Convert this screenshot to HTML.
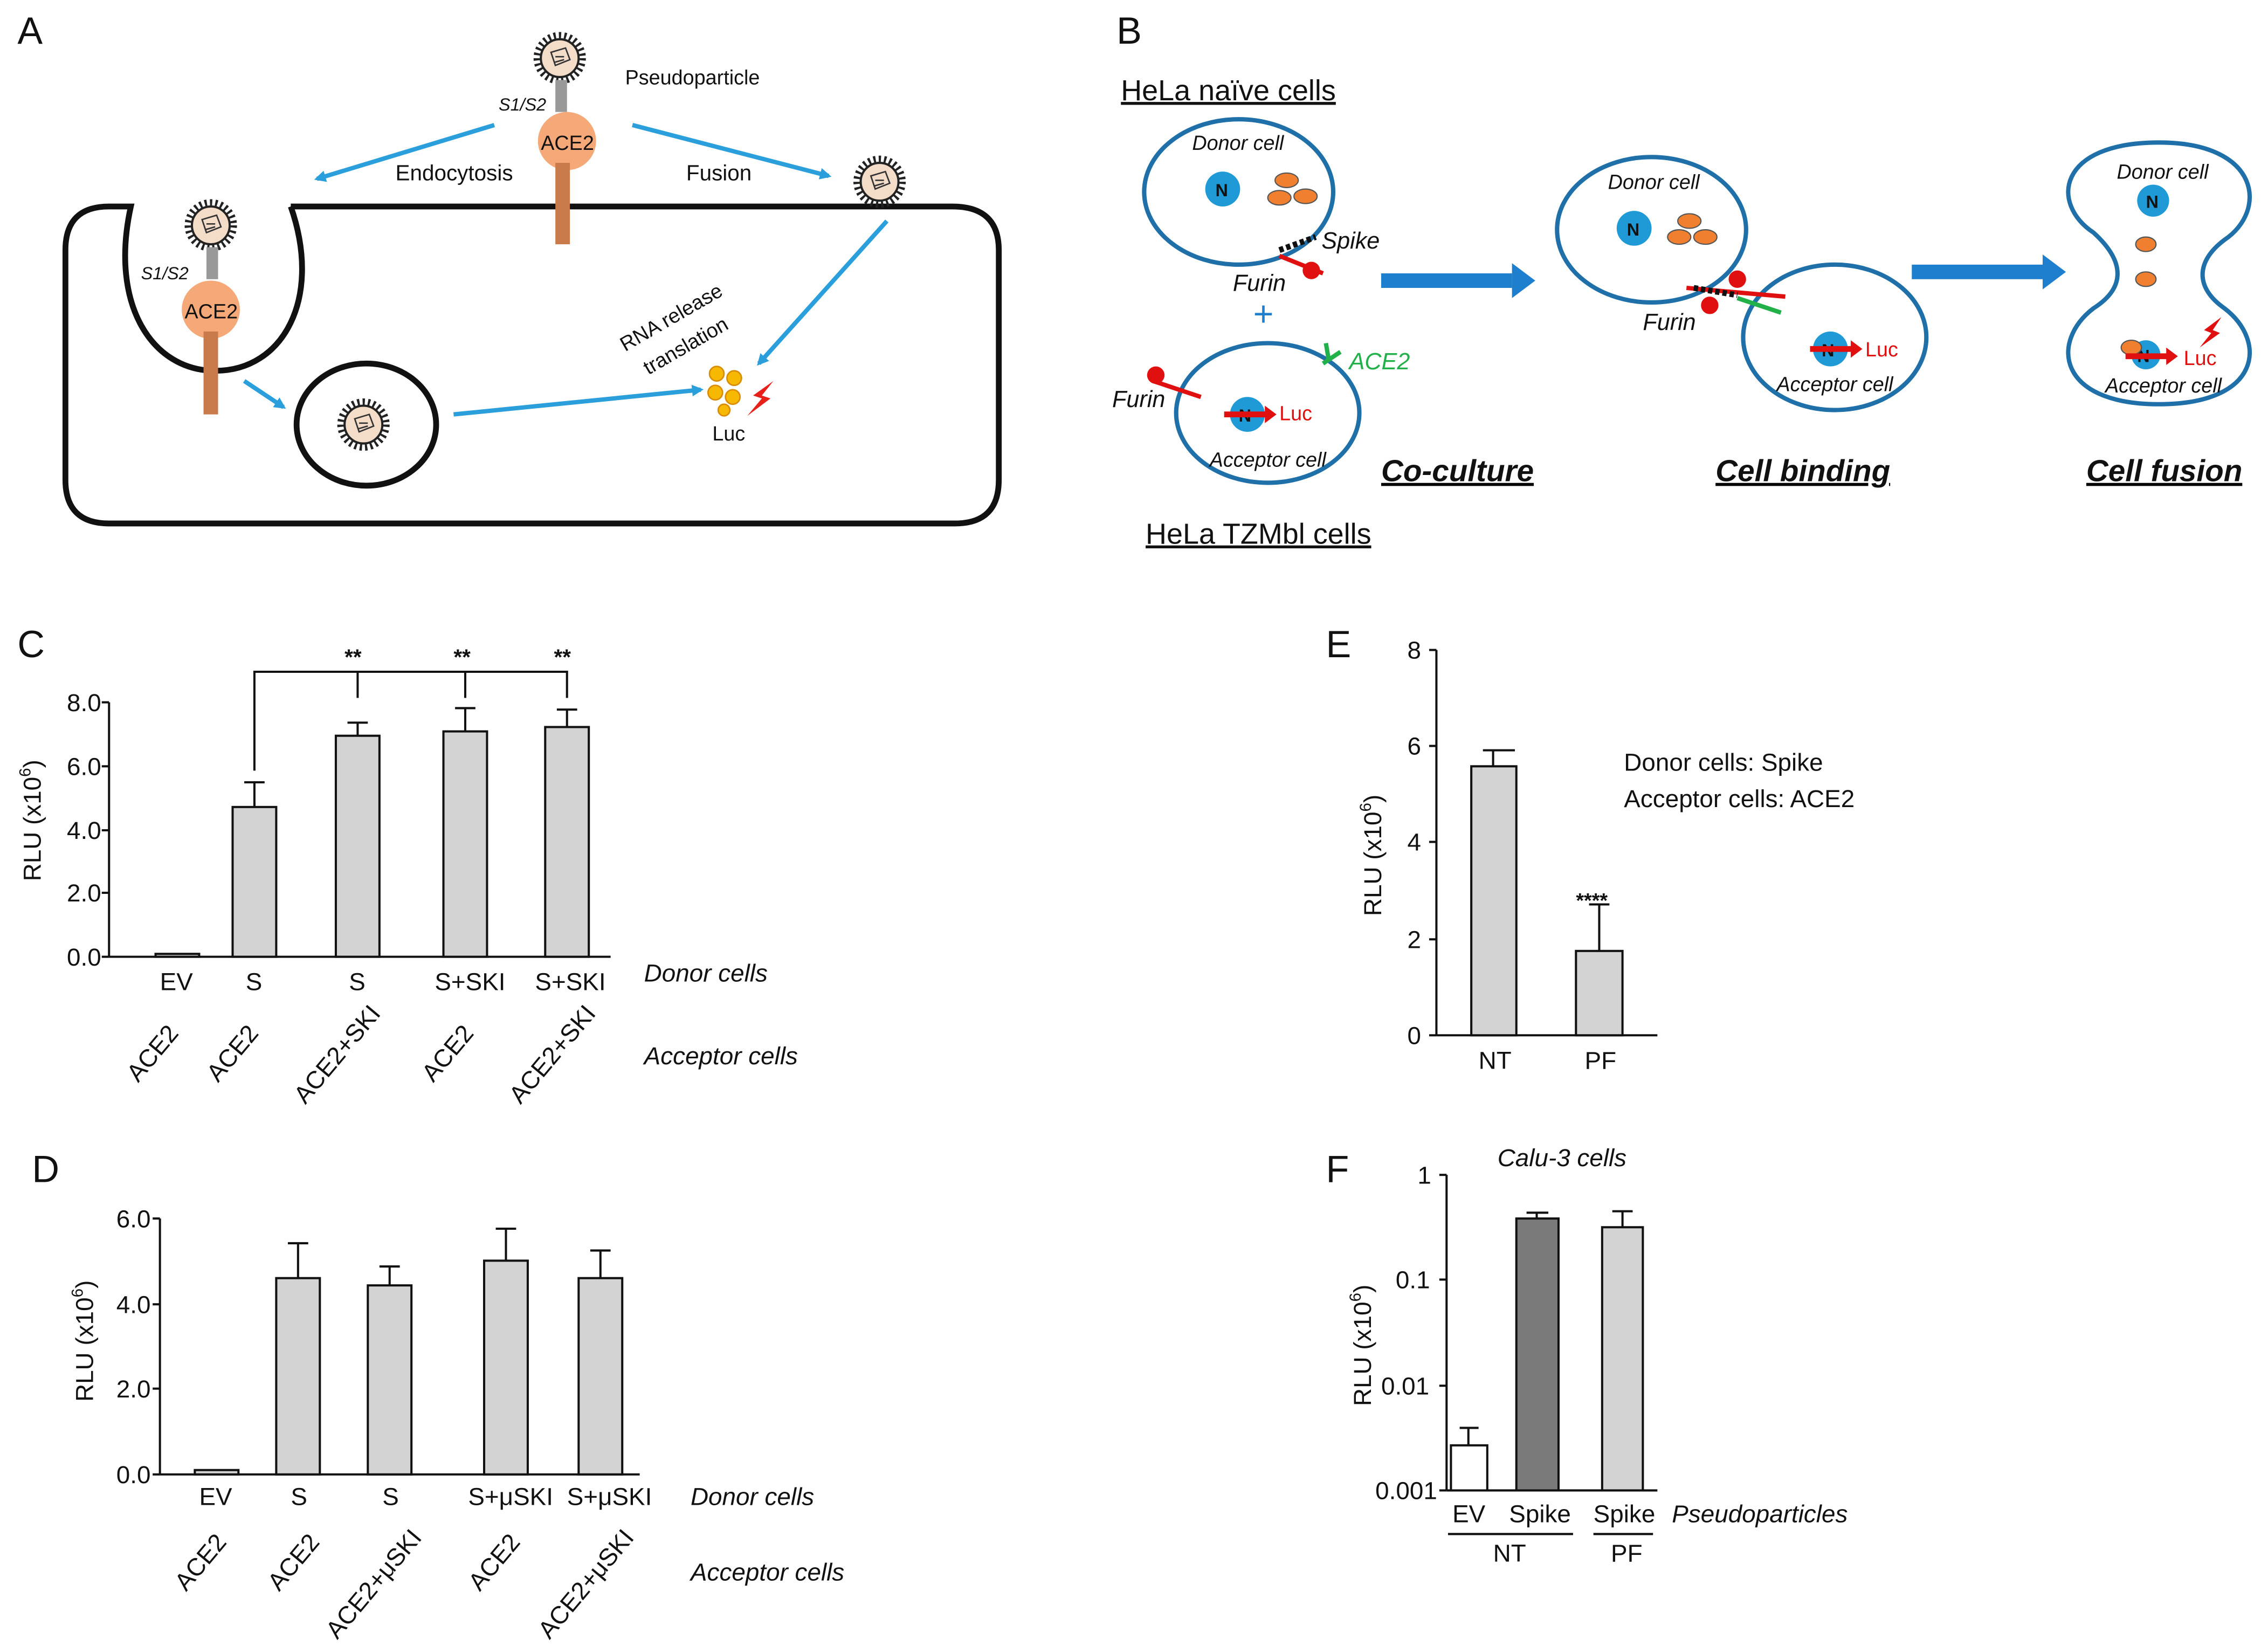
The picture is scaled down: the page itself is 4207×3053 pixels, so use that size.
<!DOCTYPE html>
<html><head><meta charset="utf-8"><style>
html,body{margin:0;padding:0;background:#fff}
svg{display:block}
text{font-family:"Liberation Sans Narrow","Liberation Sans",Arial,sans-serif;fill:#111}
</style></head><body>
<svg width="4207" height="3053" viewBox="0 0 1560 1132" preserveAspectRatio="none" xmlns="http://www.w3.org/2000/svg">
<defs>
<marker id="ab" markerWidth="8" markerHeight="8" refX="6" refY="4" orient="auto" markerUnits="userSpaceOnUse"><path d="M0,0 L8,4 L0,8 z" fill="#2a9fdc"/></marker>
<g id="vir"><circle r="15" fill="none" stroke="#222" stroke-width="6" stroke-dasharray="1.5 2"/><circle r="13" fill="#f3dcc8" stroke="#222" stroke-width="1.5"/><path d="M-6,-4 l10,-3 l3,8 l-10,4z M-3,-1 l6,0 M-4,3 l7,-2" stroke="#333" fill="none" stroke-width="1"/></g>
</defs>
<rect width="1560" height="1132" fill="#fff"/>
<text x="12" y="30" font-size="26">A</text>
<text x="768" y="30" font-size="26">B</text>
<text x="12" y="452" font-size="26">C</text>
<text x="22" y="813" font-size="26">D</text>
<text x="912" y="452" font-size="26">E</text>
<text x="912" y="813" font-size="26">F</text>

<path d="M200,142 L655,142 Q687,142 687,172 L687,330 Q687,360 657,360 L75,360 Q45,360 45,330 L45,172 Q45,142 75,142 L90,142 C75,210 105,255 148,255 C195,255 222,205 200,142" fill="none" stroke="#111" stroke-width="4"/>
<use href="#vir" x="385" y="40"/>
<rect x="382" y="55" width="8" height="22" fill="#999"/>
<text x="343" y="76" font-size="12" font-style="italic">S1/S2</text>
<circle cx="390" cy="97" r="20" fill="#f5a878"/>
<rect x="382" y="112" width="10" height="56" fill="#c97a4a"/>
<text x="372" y="103" font-size="14">ACE2</text>
<text x="430" y="58" font-size="14">Pseudoparticle</text>
<use href="#vir" x="145" y="155"/>
<rect x="142" y="170" width="8" height="22" fill="#999"/>
<text x="97" y="192" font-size="12" font-style="italic">S1/S2</text>
<circle cx="145" cy="213" r="20" fill="#f5a878"/>
<rect x="140" y="228" width="10" height="57" fill="#c97a4a"/>
<text x="127" y="219" font-size="14">ACE2</text>
<use href="#vir" x="605" y="125"/>
<ellipse cx="252" cy="292" rx="48" ry="42" fill="none" stroke="#111" stroke-width="4"/>
<use href="#vir" x="250" y="292"/>
<g stroke="#2a9fdc" stroke-width="3" fill="none" marker-end="url(#ab)">
<line x1="340" y1="86" x2="218" y2="123"/>
<line x1="435" y1="86" x2="570" y2="121"/>
<line x1="610" y1="152" x2="522" y2="250"/>
<line x1="168" y1="262" x2="195" y2="280"/>
<line x1="312" y1="285" x2="482" y2="268"/>
</g>
<text x="272" y="124" font-size="15">Endocytosis</text>
<text x="472" y="124" font-size="15">Fusion</text>
<text x="430" y="242" font-size="14" transform="rotate(-30 430 242)">RNA release</text>
<text x="446" y="258" font-size="14" transform="rotate(-30 446 258)">translation</text>
<g fill="#f6b800" stroke="#d98c00"><circle cx="493" cy="257" r="5"/><circle cx="505" cy="260" r="5"/><circle cx="492" cy="270" r="5"/><circle cx="504" cy="273" r="5"/><circle cx="498" cy="282" r="4"/></g>
<path d="M532,262 l-14,10 l6,2 l-10,12 l16,-12 l-6,-2z" fill="#e8201a"/>
<text x="490" y="303" font-size="14">Luc</text>

<text x="771" y="69" font-size="20" text-decoration="underline">HeLa naïve cells</text>
<text x="788" y="374" font-size="20" text-decoration="underline">HeLa TZMbl cells</text>
<g fill="none" stroke="#1f6fa8" stroke-width="3">
<ellipse cx="852" cy="132" rx="65" ry="50"/>
<ellipse cx="872" cy="284" rx="63" ry="48"/>
<ellipse cx="1136" cy="158" rx="65" ry="50"/>
<ellipse cx="1262" cy="232" rx="63" ry="50"/>
<path d="M1440,160 C1410,140 1415,98 1485,98 C1555,98 1560,145 1530,165 C1510,180 1510,198 1530,212 C1560,235 1555,278 1485,278 C1415,278 1410,235 1440,212 C1462,198 1462,180 1440,160z"/>
</g>
<g fill="#1f9ad6"><circle cx="841" cy="130" r="12"/><circle cx="858" cy="285" r="12"/><circle cx="1124" cy="157" r="12"/><circle cx="1259" cy="240" r="12"/><circle cx="1481" cy="138" r="11"/><circle cx="1476" cy="244" r="10"/></g>
<g font-size="12" font-weight="bold"><text x="836" y="135">N</text><text x="852" y="290">N</text><text x="1119" y="162">N</text><text x="1253" y="245">N</text><text x="1476" y="143">N</text><text x="1470" y="249">N</text></g>
<g fill="#f08030" stroke="#555" stroke-width="0.8"><ellipse cx="885" cy="124" rx="8" ry="5"/><ellipse cx="880" cy="136" rx="8" ry="5"/><ellipse cx="898" cy="135" rx="8" ry="5"/><ellipse cx="1162" cy="152" rx="8" ry="5"/><ellipse cx="1155" cy="163" rx="8" ry="5"/><ellipse cx="1173" cy="163" rx="8" ry="5"/><ellipse cx="1476" cy="168" rx="7" ry="5"/><ellipse cx="1476" cy="192" rx="7" ry="5"/><ellipse cx="1466" cy="239" rx="7" ry="5"/></g>
<g font-size="14" font-style="italic">
<text x="820" y="103">Donor cell</text><text x="1106" y="130">Donor cell</text><text x="1456" y="123">Donor cell</text>
<text x="832" y="321">Acceptor cell</text><text x="1222" y="269">Acceptor cell</text><text x="1448" y="270">Acceptor cell</text>
<text x="909" y="171" font-size="16">Spike</text><text x="848" y="200" font-size="16">Furin</text><text x="765" y="280" font-size="16">Furin</text><text x="1130" y="227" font-size="16">Furin</text>
<text x="928" y="254" font-size="16" style="fill:#22b04a">ACE2</text>
</g>
<line x1="880" y1="172" x2="905" y2="163" stroke="#111" stroke-width="4" stroke-dasharray="3 2"/>
<line x1="880" y1="176" x2="910" y2="188" stroke="#e01010" stroke-width="3"/><circle cx="902" cy="186" r="6" fill="#e01010"/>
<line x1="793" y1="262" x2="826" y2="273" stroke="#e01010" stroke-width="3"/><circle cx="795" cy="258" r="6" fill="#e01010"/>
<path d="M910,250 l12,-8 M914,248 l-2,-12" stroke="#22b04a" stroke-width="3"/>
<line x1="1160" y1="198" x2="1228" y2="204" stroke="#e01010" stroke-width="3"/><circle cx="1176" cy="210" r="6" fill="#e01010"/><circle cx="1195" cy="192" r="6" fill="#e01010"/>
<line x1="1165" y1="198" x2="1195" y2="203" stroke="#111" stroke-width="4" stroke-dasharray="3 2"/>
<line x1="1195" y1="205" x2="1225" y2="215" stroke="#22b04a" stroke-width="3"/>
<text x="862" y="224" font-size="24" style="fill:#1f7fcf">+</text>
<g fill="#e01010"><rect x="842" y="283" width="30" height="4"/><path d="M870,279 l8,6 l-8,6z"/><rect x="1245" y="238" width="30" height="4"/><path d="M1273,234 l8,6 l-8,6z"/><rect x="1462" y="243" width="30" height="4"/><path d="M1490,239 l8,6 l-8,6z"/><path d="M1528,218 l-12,9 l5,2 l-8,10 l14,-10 l-5,-2z"/></g>
<g font-family="Liberation Serif" font-size="14"><text x="880" y="289" style="fill:#e01010">Luc</text><text x="1283" y="245" style="fill:#e01010">Luc</text><text x="1502" y="251" style="fill:#e01010">Luc</text></g>
<g fill="#1f7fcf"><rect x="950" y="188" width="90" height="10"/><path d="M1040,181 l16,12 l-16,12z"/><rect x="1315" y="182" width="92" height="10"/><path d="M1405,175 l16,12 l-16,12z"/></g>
<g font-size="21" font-weight="bold" font-style="italic" text-decoration="underline"><text x="950" y="331">Co-culture</text><text x="1180" y="331">Cell binding</text><text x="1435" y="331">Cell fusion</text></g>

<g stroke="#111" stroke-width="1.5" fill="none">
<line x1="75" y1="483" x2="75" y2="658"/><line x1="75" y1="658" x2="420" y2="658"/>
<line x1="70" y1="483" x2="75" y2="483"/><line x1="70" y1="527" x2="75" y2="527"/><line x1="70" y1="571" x2="75" y2="571"/><line x1="70" y1="614" x2="75" y2="614"/><line x1="70" y1="658" x2="75" y2="658"/>
</g>
<g font-size="17"><text x="46" y="489">8.0</text><text x="46" y="533">6.0</text><text x="46" y="577">4.0</text><text x="46" y="620">2.0</text><text x="46" y="664">0.0</text></g>
<text x="28" y="606" font-size="17" transform="rotate(-90 28 606)">RLU (x10<tspan font-size="11" dy="-7">6</tspan><tspan dy="7">)</tspan></text>
<g fill="#d3d3d3" stroke="#111" stroke-width="1.5">
<rect x="107" y="656" width="30" height="2"/><rect x="160" y="555" width="30" height="103"/><rect x="231" y="506" width="30" height="152"/><rect x="305" y="503" width="30" height="155"/><rect x="375" y="500" width="30" height="158"/>
</g>
<g stroke="#111" stroke-width="1.5" fill="none">
<path d="M175,555 V538 M168,538 H182 M246,506 V497 M239,497 H253 M320,503 V487 M313,487 H327 M390,500 V488 M383,488 H397"/>
<path d="M175,530 V462 H390 V480 M246,462 V480 M320,462 V480"/>
</g>
<g font-size="15" font-weight="bold"><text x="237" y="457">**</text><text x="312" y="457">**</text><text x="381" y="457">**</text></g>
<g font-size="17"><text x="110" y="681">EV</text><text x="169" y="681">S</text><text x="240" y="681">S</text><text x="299" y="681">S+SKI</text><text x="368" y="681">S+SKI</text></g>
<g font-size="17" font-style="italic"><text x="443" y="675">Donor cells</text><text x="443" y="732">Acceptor cells</text></g>
<g font-size="17"><text transform="translate(95,745) rotate(-50)">ACE2</text><text transform="translate(150,745) rotate(-50)">ACE2</text><text transform="translate(210,760) rotate(-50)">ACE2+SKI</text><text transform="translate(298,745) rotate(-50)">ACE2</text><text transform="translate(358,760) rotate(-50)">ACE2+SKI</text></g>

<g stroke="#111" stroke-width="1.5" fill="none">
<line x1="110" y1="838" x2="110" y2="1014"/><line x1="110" y1="1014" x2="440" y2="1014"/>
<line x1="105" y1="838" x2="110" y2="838"/><line x1="105" y1="897" x2="110" y2="897"/><line x1="105" y1="955" x2="110" y2="955"/><line x1="105" y1="1014" x2="110" y2="1014"/>
</g>
<g font-size="17"><text x="80" y="844">6.0</text><text x="80" y="903">4.0</text><text x="80" y="961">2.0</text><text x="80" y="1020">0.0</text></g>
<text x="64" y="964" font-size="17" transform="rotate(-90 64 964)">RLU (x10<tspan font-size="11" dy="-7">6</tspan><tspan dy="7">)</tspan></text>
<g fill="#d3d3d3" stroke="#111" stroke-width="1.5">
<rect x="134" y="1011" width="30" height="3"/><rect x="190" y="879" width="30" height="135"/><rect x="253" y="884" width="30" height="130"/><rect x="333" y="867" width="30" height="147"/><rect x="398" y="879" width="30" height="135"/>
</g>
<g stroke="#111" stroke-width="1.5"><path d="M205,879 V855 M198,855 H212 M268,884 V871 M261,871 H275 M348,867 V845 M341,845 H355 M413,879 V860 M406,860 H420"/></g>
<g font-size="17"><text x="137" y="1035">EV</text><text x="200" y="1035">S</text><text x="263" y="1035">S</text><text x="322" y="1035">S+μSKI</text><text x="390" y="1035">S+μSKI</text></g>
<g font-size="17" font-style="italic"><text x="475" y="1035">Donor cells</text><text x="475" y="1087">Acceptor cells</text></g>
<g font-size="17"><text transform="translate(128,1095) rotate(-50)">ACE2</text><text transform="translate(192,1095) rotate(-50)">ACE2</text><text transform="translate(232,1128) rotate(-50)">ACE2+μSKI</text><text transform="translate(330,1095) rotate(-50)">ACE2</text><text transform="translate(378,1128) rotate(-50)">ACE2+μSKI</text></g>

<g stroke="#111" stroke-width="1.5" fill="none">
<line x1="988" y1="447" x2="988" y2="712"/><line x1="988" y1="712" x2="1140" y2="712"/>
<line x1="983" y1="447" x2="988" y2="447"/><line x1="983" y1="513" x2="988" y2="513"/><line x1="983" y1="579" x2="988" y2="579"/><line x1="983" y1="646" x2="988" y2="646"/><line x1="983" y1="712" x2="988" y2="712"/>
</g>
<g font-size="17"><text x="968" y="453">8</text><text x="968" y="519">6</text><text x="968" y="585">4</text><text x="968" y="652">2</text><text x="968" y="718">0</text></g>
<text x="950" y="630" font-size="17" transform="rotate(-90 950 630)">RLU (x10<tspan font-size="11" dy="-7">6</tspan><tspan dy="7">)</tspan></text>
<g fill="#d3d3d3" stroke="#111" stroke-width="1.5"><rect x="1012" y="527" width="31" height="185"/><rect x="1084" y="654" width="32" height="58"/></g>
<g stroke="#111" stroke-width="1.5"><path d="M1027,527 V516 M1020,516 H1042 M1100,654 V622 M1093,622 H1107"/></g>
<text x="1084" y="624" font-size="14" font-weight="bold">****</text>
<g font-size="17"><text x="1017" y="735">NT</text><text x="1090" y="735">PF</text><text x="1117" y="530">Donor cells: Spike</text><text x="1117" y="555">Acceptor cells: ACE2</text></g>

<text x="1030" y="802" font-size="17" font-style="italic">Calu-3 cells</text>
<g stroke="#111" stroke-width="1.5" fill="none">
<line x1="995" y1="808" x2="995" y2="1025"/><line x1="995" y1="1025" x2="1140" y2="1025"/>
<line x1="990" y1="808" x2="995" y2="808"/><line x1="990" y1="880" x2="995" y2="880"/><line x1="990" y1="953" x2="995" y2="953"/><line x1="990" y1="1025" x2="995" y2="1025"/>
</g>
<g font-size="17"><text x="975" y="814">1</text><text x="960" y="886">0.1</text><text x="950" y="959">0.01</text><text x="946" y="1031">0.001</text></g>
<text x="943" y="967" font-size="17" transform="rotate(-90 943 967)">RLU (x10<tspan font-size="11" dy="-7">6</tspan><tspan dy="7">)</tspan></text>
<g stroke="#111" stroke-width="1.5"><rect x="998" y="994" width="25" height="31" fill="#fff"/><rect x="1043" y="838" width="29" height="187" fill="#7a7a7a"/><rect x="1102" y="844" width="28" height="181" fill="#d3d3d3"/>
<path d="M1010,994 V982 M1004,982 H1017 M1057,838 V834 M1050,834 H1065 M1116,844 V833 M1109,833 H1123" fill="none"/>
<path d="M996,1055 H1082 M1096,1055 H1137" fill="none"/></g>
<g font-size="17"><text x="999" y="1047">EV</text><text x="1038" y="1047">Spike</text><text x="1096" y="1047">Spike</text><text x="1027" y="1074">NT</text><text x="1108" y="1074">PF</text></g>
<text x="1150" y="1047" font-size="17" font-style="italic">Pseudoparticles</text>
</svg>
</body></html>
